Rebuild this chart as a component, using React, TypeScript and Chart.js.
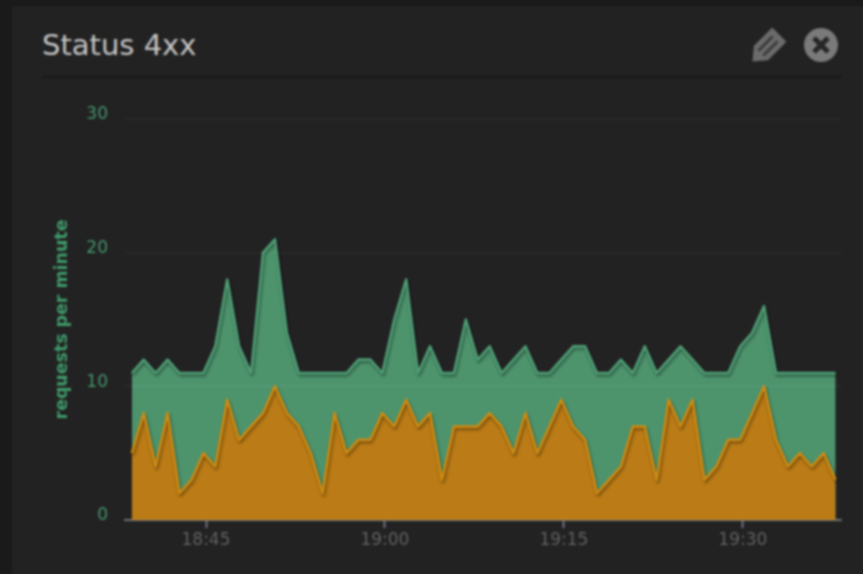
import React, { useEffect, useRef } from "react";
import { Chart, registerables } from "chart.js";

Chart.register(...registerables);

const title = "Status 4xx";
const yAxisTitle = "requests per minute";
const yTicks = [0, 10, 20, 30];
const xTickMinutes = [45, 60, 75, 90];
const xTickLabels = ["18:45", "19:00", "19:15", "19:30"];

const totalRequests = [
  11, 12, 11, 12, 11, 11, 11, 13, 18, 13, 11, 20, 21, 14, 11, 11, 11, 11, 11, 12,
  12, 11, 15, 18, 11, 13, 11, 11, 15, 12, 13, 11, 12, 13, 11, 11, 12, 13, 13, 11,
  11, 12, 11, 13, 11, 12, 13, 12, 11, 11, 11, 13, 14, 16, 11, 11, 11, 11, 11, 11,
];
const otherRequests = [
  5, 8, 4, 8, 2, 3, 5, 4, 9, 6, 7, 8, 10, 8, 7, 5, 2, 8, 5, 6,
  6, 8, 7, 9, 7, 8, 3, 7, 7, 7, 8, 7, 5, 8, 5, 7, 9, 7, 6, 2,
  3, 4, 7, 7, 3, 9, 7, 9, 3, 4, 6, 6, 8, 10, 6, 4, 5, 4, 5, 3,
];
const firstMinute = 38.78;
const minutes = totalRequests.map((_, i) => firstMinute + i);

const shadowPlugin = {
  id: "lineShadow",
  beforeDatasetDraw(chart: any) {
    const c = chart.ctx;
    c.save();
    c.shadowColor = "rgba(0,0,0,0.45)";
    c.shadowOffsetX = 1;
    c.shadowOffsetY = 2;
    c.shadowBlur = 3;
  },
  afterDatasetDraw(chart: any) {
    chart.ctx.restore();
  },
};

export default function App() {
  const ref = useRef<HTMLCanvasElement | null>(null);

  useEffect(() => {
    const chart = new Chart(ref.current as HTMLCanvasElement, {
      type: "line",
      data: {
        datasets: [
          {
            label: "other",
            data: otherRequests.map((y, i) => ({ x: minutes[i], y })),
            borderColor: "#cf8c12",
            backgroundColor: "#bb7b16",
            borderWidth: 2.5,
            borderJoinStyle: "round",
            pointRadius: 0,
            fill: "origin",
            tension: 0,
          },
          {
            label: "total",
            data: totalRequests.map((y, i) => ({ x: minutes[i], y })),
            borderColor: "#4f9e75",
            backgroundColor: "#4d946d",
            borderWidth: 2.5,
            borderJoinStyle: "round",
            pointRadius: 0,
            fill: "origin",
            tension: 0,
          },
        ],
      },
      options: {
        animation: false,
        responsive: false,
        layout: { padding: { top: 119, right: 22, left: 0, bottom: 0 } },
        plugins: { legend: { display: false }, tooltip: { enabled: false } },
        scales: {
          x: {
            type: "linear",
            min: 38.21,
            max: 98.23,
            afterFit(s: any) {
              s.height = 54;
            },
            afterBuildTicks(s: any) {
              s.ticks = xTickMinutes.map((value) => ({ value }));
            },
            border: { display: true, color: "#6a6c70", width: 2 },
            grid: {
              drawOnChartArea: false,
              drawTicks: true,
              tickLength: 8,
              tickColor: "#6f7580",
              tickWidth: 2,
            },
            ticks: {
              color: "#616161",
              padding: 2,
              maxRotation: 0,
              autoSkip: false,
              font: { family: "DejaVu Sans", size: 17 },
              callback: (v: any) => xTickLabels[xTickMinutes.indexOf(Number(v))],
            },
          },
          y: {
            min: 0,
            max: 30,
            afterFit(s: any) {
              s.width = 125;
            },
            afterBuildTicks(s: any) {
              s.ticks = yTicks.map((value) => ({ value }));
            },
            border: { display: false },
            grid: { color: "rgba(255,255,255,0.035)", lineWidth: 2, drawTicks: false, z: 1 },
            ticks: {
              color: "#44966c",
              padding: 17,
              labelOffset: -4,
              font: { family: "DejaVu Sans", size: 17 },
            },
            title: {
              display: true,
              text: yAxisTitle,
              color: "#3f9a6a",
              font: { family: "DejaVu Sans", size: 17.4, weight: "bold" },
              padding: { top: 52, bottom: 0 },
            },
          },
        },
      },
      plugins: [shadowPlugin],
    } as any);
    return () => chart.destroy();
  }, []);

  return (
    <div style={{ position: "fixed", inset: 0, width: 863, height: 574, overflow: "hidden", background: "#1a1a1a" }}>
      <div style={{ position: "absolute", left: 0, top: 0, width: 863, height: 574, filter: "blur(0.8px)" }}>
        <div style={{ position: "absolute", left: 12, top: 6, right: -10, bottom: -10, background: "#222222" }} />
        <div
          style={{
            position: "absolute",
            left: 42,
            top: 25,
            fontFamily: "DejaVu Sans",
            fontSize: 29,
            lineHeight: "40px",
            color: "#c4c4c4",
            whiteSpace: "nowrap",
          }}
        >
          {title}
        </div>
        <div style={{ position: "absolute", left: 42, top: 76, width: 800, height: 2, background: "#181818" }} />
        <svg width={863} height={100} style={{ position: "absolute", left: 0, top: 0 }}>
          <g transform="rotate(45 768 46)">
            <path d="M758 30 h20 v26 l-10 12 l-10 -12 z" fill="#6b6b6b" />
            <rect x={763} y={36} width={3} height={20} fill="#3c3c3c" />
            <rect x={770} y={36} width={3} height={20} fill="#3c3c3c" />
          </g>
          <circle cx={821} cy={45} r={17} fill="#7a7a7a" />
          <path d="M814 38 L828 52 M828 38 L814 52" stroke="#262626" strokeWidth={5} />
        </svg>
        <canvas ref={ref} width={863} height={574} style={{ position: "absolute", left: 0, top: 0, display: "block" }} />
      </div>
    </div>
  );
}
